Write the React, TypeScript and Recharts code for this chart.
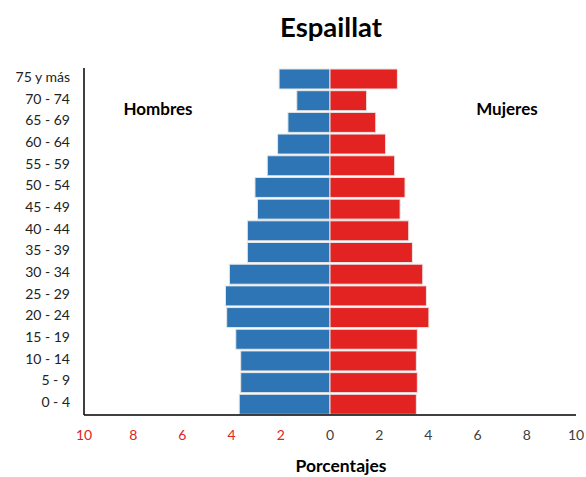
import React from "react";
import { BarChart, Bar, XAxis, YAxis } from "recharts";

const ageGroups = [
  "75 y más", "70 - 74", "65 - 69", "60 - 64", "55 - 59", "50 - 54", "45 - 49", "40 - 44",
  "35 - 39", "30 - 34", "25 - 29", "20 - 24", "15 - 19", "10 - 14", "5 - 9", "0 - 4",
];
const hombres = [2.07, 1.35, 1.71, 2.13, 2.55, 3.05, 2.95, 3.36, 3.36, 4.09, 4.25, 4.2, 3.83, 3.63, 3.63, 3.69];
const mujeres = [2.74, 1.49, 1.86, 2.26, 2.63, 3.05, 2.85, 3.2, 3.35, 3.77, 3.92, 4.02, 3.55, 3.51, 3.55, 3.51];
const xTicks = [-10, -8, -6, -4, -2, 0, 2, 4, 6, 8, 10];

const data = ageGroups.map((g, i) => ({ grupo: g, hombres: -hombres[i], mujeres: mujeres[i] }));

const FONT = "Lato, 'Open Sans', sans-serif";

const XTick = (props: any) => {
  const { x, y, payload } = props;
  const v = payload.value as number;
  return (
    <text x={x} y={y} dy="0.71em" textAnchor="middle" fontSize={14} fontFamily={FONT} fill={v < 0 ? "#e32322" : "#404040"}>
      {Math.abs(v)}
    </text>
  );
};

export default function App() {
  return (
    <div style={{ position: "absolute", left: 0, top: 0, width: 586, height: 477, background: "#fff" }}>
      <BarChart
        width={586}
        height={477}
        data={data}
        layout="vertical"
        stackOffset="sign"
        barCategoryGap={1}
        margin={{ top: 68, right: 10, left: 0, bottom: 32 }}
      >
        <XAxis
          type="number"
          domain={[-10, 10]}
          ticks={xTicks}
          tick={<XTick />}
          tickLine={false}
          tickMargin={9}
          height={30}
          axisLine={{ stroke: "#000", strokeWidth: 1.5 }}
        />
        <YAxis
          type="category"
          dataKey="grupo"
          width={84}
          tickLine={false}
          tickMargin={8}
          axisLine={{ stroke: "#000", strokeWidth: 1.5 }}
          tick={{ fontSize: 14, fontFamily: FONT, fill: "#222", dy: -2 }}
          interval={0}
        />
        <Bar dataKey="hombres" stackId="a" fill="#2e75b6" stroke="#e6e6e6" strokeWidth={1} isAnimationActive={false} />
        <Bar dataKey="mujeres" stackId="a" fill="#e32322" stroke="#e6e6e6" strokeWidth={1} isAnimationActive={false} />
      </BarChart>
      <svg width={586} height={477} style={{ position: "absolute", left: 0, top: 0, pointerEvents: "none" }}>
        <text x={331} y={37} textAnchor="middle" fontSize={27.5} fontWeight="bold" fontFamily={FONT} fill="#000">Espaillat</text>
        <text x={158} y={115} textAnchor="middle" fontSize={17} fontWeight="bold" fontFamily={FONT} fill="#000">Hombres</text>
        <text x={507} y={115} textAnchor="middle" fontSize={17} fontWeight="bold" fontFamily={FONT} fill="#000">Mujeres</text>
        <text x={341} y={472} textAnchor="middle" fontSize={17.5} fontWeight="bold" fontFamily={FONT} fill="#000">Porcentajes</text>
      </svg>
    </div>
  );
}
